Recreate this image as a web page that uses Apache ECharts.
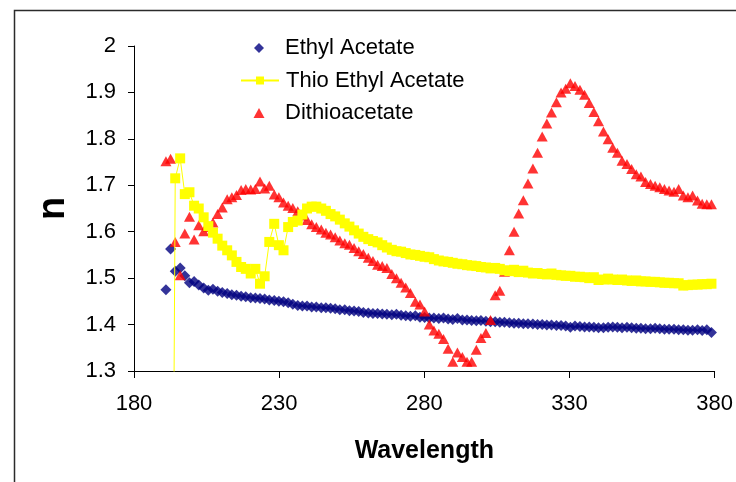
<!DOCTYPE html>
<html>
<head>
<meta charset="utf-8">
<title>Refractive index vs wavelength</title>
<script src="https://cdn.jsdelivr.net/npm/echarts@6/dist/echarts.min.js"></script>
<style>
  html, body { margin: 0; padding: 0; background: #fff; }
  #chart { width: 736px; height: 482px; }
</style>
</head>
<body>
<div id="chart"></div>
<script>
// Measurement wavelengths (nm)
const wavelength = [
  191.0, 192.6, 194.2, 195.9, 197.5, 199.1, 200.7, 202.3, 204.0, 205.6,
  207.2, 208.8, 210.4, 212.1, 213.7, 215.3, 216.9, 218.5, 220.2, 221.8,
  223.4, 225.0, 226.6, 228.3, 229.9, 231.5, 233.1, 234.7, 236.4, 238.0,
  239.6, 241.2, 242.8, 244.5, 246.1, 247.7, 249.3, 250.9, 252.6, 254.2,
  255.8, 257.4, 259.0, 260.7, 262.3, 263.9, 265.5, 267.1, 268.8, 270.4,
  272.0, 273.6, 275.2, 276.9, 278.5, 280.1, 281.7, 283.3, 285.0, 286.6,
  288.2, 289.8, 291.4, 293.1, 294.7, 296.3, 297.9, 299.5, 301.2, 302.8,
  304.4, 306.0, 307.6, 309.3, 310.9, 312.5, 314.1, 315.7, 317.4, 319.0,
  320.6, 322.2, 323.8, 325.5, 327.1, 328.7, 330.3, 331.9, 333.6, 335.2,
  336.8, 338.4, 340.0, 341.7, 343.3, 344.9, 346.5, 348.1, 349.8, 351.4,
  353.0, 354.6, 356.2, 357.9, 359.5, 361.1, 362.7, 364.3, 366.0, 367.6,
  369.2, 370.8, 372.4, 374.1, 375.7, 377.3, 378.9
];

// Refractive index n, one value per wavelength
const ethylAcetate = [
  1.475, 1.563, 1.515, 1.522, 1.505, 1.490, 1.493, 1.485, 1.479, 1.474,
  1.476, 1.472, 1.469, 1.467, 1.464, 1.463, 1.461, 1.460, 1.458, 1.457,
  1.456, 1.455, 1.453, 1.452, 1.450, 1.449, 1.447, 1.444, 1.441, 1.440,
  1.440, 1.438, 1.438, 1.436, 1.436, 1.435, 1.434, 1.432, 1.432, 1.430,
  1.429, 1.428, 1.426, 1.425, 1.424, 1.424, 1.423, 1.422, 1.421, 1.422,
  1.420, 1.419, 1.418, 1.419, 1.416, 1.415, 1.414, 1.414, 1.413, 1.414,
  1.412, 1.411, 1.413, 1.410, 1.410, 1.409, 1.408, 1.409, 1.407, 1.406,
  1.406, 1.405, 1.405, 1.404, 1.403, 1.403, 1.402, 1.402, 1.401, 1.400,
  1.400, 1.399, 1.399, 1.398, 1.398, 1.397, 1.394, 1.397, 1.396, 1.395,
  1.395, 1.394, 1.393, 1.393, 1.394, 1.395, 1.394, 1.393, 1.394, 1.393,
  1.392, 1.392, 1.391, 1.391, 1.392, 1.391, 1.390, 1.390, 1.390, 1.389,
  1.389, 1.388, 1.388, 1.389, 1.387, 1.389, 1.383
];

const thioEthylAcetate = [
  null, 0, 1.715, 1.758, 1.681, 1.685, 1.656, 1.650, 1.631, 1.612,
  1.598, 1.585, 1.570, 1.560, 1.549, 1.535, 1.524, 1.520, 1.510, 1.520,
  1.488, 1.504, 1.578, 1.617, 1.571, 1.560, 1.610, 1.621, 1.624, 1.637,
  1.650, 1.654, 1.654, 1.650, 1.645, 1.638, 1.633, 1.626, 1.618, 1.611,
  1.603, 1.596, 1.589, 1.584, 1.580, 1.577, 1.571, 1.566, 1.561, 1.558,
  1.557, 1.554, 1.551, 1.550, 1.548, 1.546, 1.545, 1.541, 1.538, 1.536,
  1.535, 1.533, 1.531, 1.530, 1.528, 1.527, 1.526, 1.524, 1.523, 1.521,
  1.522, 1.520, 1.517, 1.515, 1.518, 1.513, 1.516, 1.512, 1.510, 1.511,
  1.509, 1.508, 1.510, 1.507, 1.506, 1.505, 1.505, 1.503, 1.503, 1.502,
  1.500, 1.502, 1.496, 1.497, 1.499, 1.497, 1.496, 1.497, 1.495, 1.494,
  1.495, 1.493, 1.493, 1.492, 1.492, 1.491, 1.490, 1.490, 1.489, 1.489,
  1.484, 1.485, 1.486, 1.486, 1.487, 1.487, 1.488
];

const dithioacetate = [
  1.752, 1.757, 1.578, 1.506, 1.596, 1.632, 1.583, 1.614, 1.601, 1.610,
  1.620, 1.638, 1.652, 1.670, 1.674, 1.679, 1.690, 1.692, 1.691, 1.692,
  1.708, 1.693, 1.699, 1.680, 1.674, 1.663, 1.656, 1.651, 1.644, 1.635,
  1.625, 1.616, 1.610, 1.605, 1.598, 1.594, 1.588, 1.581, 1.575, 1.572,
  1.565, 1.558, 1.552, 1.544, 1.537, 1.529, 1.526, 1.522, 1.509, 1.500,
  1.490, 1.480, 1.468, 1.449, 1.443, 1.428, 1.400, 1.387, 1.380, 1.369,
  1.348, 1.320, 1.340, 1.330, 1.320, 1.320, 1.346, 1.371, 1.382, 1.410,
  1.463, 1.473, 1.514, 1.560, 1.600, 1.639, 1.668, 1.704, 1.736, 1.770,
  1.805, 1.833, 1.857, 1.879, 1.900, 1.908, 1.920, 1.914, 1.906, 1.895,
  1.877, 1.858, 1.838, 1.816, 1.799, 1.781, 1.770, 1.753, 1.746, 1.735,
  1.724, 1.719, 1.707, 1.703, 1.699, 1.696, 1.692, 1.689, 1.686, 1.692,
  1.678, 1.674, 1.678, 1.667, 1.660, 1.659, 1.659
];

const seriesNames = ['Ethyl Acetate', 'Thio Ethyl Acetate', 'Dithioacetate'];
const xRange = { min: 180, max: 380, step: 50 };
const yRange = { min: 1.3, max: 2, step: 0.1 };

const FONT = '"Liberation Sans", Arial, Helvetica, sans-serif';

function toPoints(values) {
  const pts = [];
  values.forEach((v, i) => { if (v !== null) pts.push([wavelength[i], v]); });
  return pts;
}

// One legend box per entry so the marker-only entries keep a compact icon
// while the line entry keeps its wide line-and-marker icon.
const legendText = { fontFamily: FONT, fontSize: 22, color: '#000', lineHeight: 22 };
function legendEntry(name, top, iconWidth, icon) {
  const left = 259 - iconWidth / 2;
  const textStart = 285;
  return {
    orient: 'vertical',
    left: left,
    top: top,
    padding: 0,
    itemWidth: iconWidth,
    itemHeight: 10,
    textStyle: Object.assign({}, legendText, { padding: [0, 0, 0, textStart - (left + iconWidth + 5)] }),
    data: [icon ? { name: name, icon: icon } : { name: name }]
  };
}

const chart = echarts.init(document.getElementById('chart'), null, { renderer: 'canvas' });

chart.setOption({
  animation: false,
  backgroundColor: '#ffffff',
  graphic: [{
    type: 'rect',
    silent: true,
    z: -10,
    shape: { x: 14.5, y: 10.5, width: 900, height: 700 },
    style: { fill: 'none', stroke: '#2b2b2b', lineWidth: 1.5 }
  }],
  grid: { left: 134, right: 20, top: 46, bottom: 111 },
  legend: [
    legendEntry(seriesNames[0], 37, 10, 'diamond'),
    legendEntry(seriesNames[1], 69.5, 38, null),
    legendEntry(seriesNames[2], 102, 11, 'triangle')
  ],
  xAxis: {
    type: 'value',
    min: xRange.min,
    max: xRange.max,
    interval: xRange.step,
    name: 'Wavelength',
    nameLocation: 'middle',
    nameGap: 68,
    nameTextStyle: { fontFamily: FONT, fontSize: 25, fontWeight: 'bold', color: '#000' },
    axisLine: { show: true, onZero: false, lineStyle: { color: '#000', width: 1 } },
    axisTick: { show: true, length: 7, lineStyle: { color: '#000' } },
    axisLabel: { fontFamily: FONT, fontSize: 22, color: '#000', margin: 22 },
    splitLine: { show: false }
  },
  yAxis: {
    type: 'value',
    min: yRange.min,
    max: yRange.max,
    interval: yRange.step,
    name: 'n',
    nameLocation: 'middle',
    nameRotate: 90,
    nameGap: 61,
    nameTextStyle: { fontFamily: FONT, fontSize: 38, fontWeight: 'bold', color: '#000' },
    axisLine: { show: true, onZero: false, lineStyle: { color: '#000', width: 1 } },
    axisTick: { show: true, length: 6, lineStyle: { color: '#000' } },
    axisLabel: { fontFamily: FONT, fontSize: 22, color: '#000', margin: 18 },
    splitLine: { show: false }
  },
  series: [
    {
      name: seriesNames[0],
      type: 'scatter',
      symbol: 'diamond',
      symbolSize: 11,
      itemStyle: { color: '#000080' },
      data: toPoints(ethylAcetate),
      clip: true
    },
    {
      name: seriesNames[1],
      type: 'line',
      symbol: 'rect',
      symbolSize: 10,
      showAllSymbol: true,
      itemStyle: { color: '#ffff00' },
      lineStyle: { color: '#ffff00', width: 1 },
      data: toPoints(thioEthylAcetate),
      clip: true
    },
    {
      name: seriesNames[2],
      type: 'scatter',
      symbol: 'triangle',
      symbolSize: [11, 10],
      itemStyle: { color: '#ff0000' },
      data: toPoints(dithioacetate),
      clip: true
    }
  ]
});
</script>
</body>
</html>
